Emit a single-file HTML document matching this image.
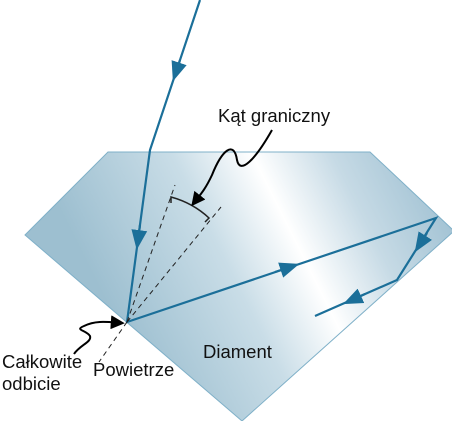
<!DOCTYPE html>
<html><head><meta charset="utf-8"><style>
html,body{margin:0;padding:0;background:#fff;}
svg{display:block;font-family:"Liberation Sans",sans-serif;}
</style></head><body>
<svg width="452" height="421" viewBox="0 0 452 421">
<defs>
<linearGradient id="g" gradientUnits="userSpaceOnUse" x1="120" y1="330" x2="440" y2="170">
<stop offset="0" stop-color="#9dbfd0"/>
<stop offset="0.35" stop-color="#c9dde7"/>
<stop offset="0.55" stop-color="#ffffff"/>
<stop offset="0.75" stop-color="#c6dae5"/>
<stop offset="1" stop-color="#9dbfd1"/>
</linearGradient>
<marker id="ar" viewBox="0 0 10 10" refX="5" refY="5" markerWidth="9" markerHeight="9" orient="auto"><path d="M0,1 L10,5 L0,9 Z" fill="#1b6f99"/></marker>
<marker id="ab" viewBox="0 0 10 10" refX="8" refY="5" markerWidth="7" markerHeight="7" orient="auto"><path d="M0,0 L10,5 L0,10 Z" fill="#000"/></marker>
</defs>
<polygon points="108,152 370,152 454,231 242,421 25,235" fill="url(#g)" stroke="#7fb0c8" stroke-width="1"/>
<g stroke="#1b6f99" stroke-width="2.2" fill="none">
<polyline points="200,0 150,150 127,322 436,218 397,280 315,316"/>
<path d="M180,60 L176,72" marker-end="url(#ar)"/>
<path d="M140,225 L138,240" marker-end="url(#ar)"/>
<path d="M275,272 L290,267" marker-end="url(#ar)"/>
<path d="M427,233 L420,244" marker-end="url(#ar)"/>
<path d="M365,294 L352,300" marker-end="url(#ar)"/>
</g>
<g stroke="#222" stroke-width="1" stroke-dasharray="5,4" fill="none">
<line x1="127" y1="322" x2="175" y2="185"/>
<line x1="127" y1="322" x2="221" y2="207"/>
<line x1="127" y1="322" x2="99" y2="362"/>
</g>
<path d="M171,203 L171,197 Q193,203 209,218 L205,222" stroke="#222" stroke-width="1.5" fill="none"/>
<path d="M272,130 C255,160 240,175 237,160 C234,140 222,150 212,175 C205,190 200,195 193,204" stroke="#000" stroke-width="2" fill="none" marker-end="url(#ab)"/>
<path d="M74,354 C80,345 92,342 90,336 C86,330 74,330 84,326 C96,320 108,322 122,323" stroke="#000" stroke-width="2" fill="none" marker-end="url(#ab)"/>
<g font-size="18.5" fill="#111">
<text x="218" y="122">Kąt graniczny</text>
<text x="203" y="358">Diament</text>
<text x="93" y="376">Powietrze</text>
<text x="2" y="368">Całkowite</text>
<text x="2" y="390">odbicie</text>
</g>
</svg>
</body></html>
